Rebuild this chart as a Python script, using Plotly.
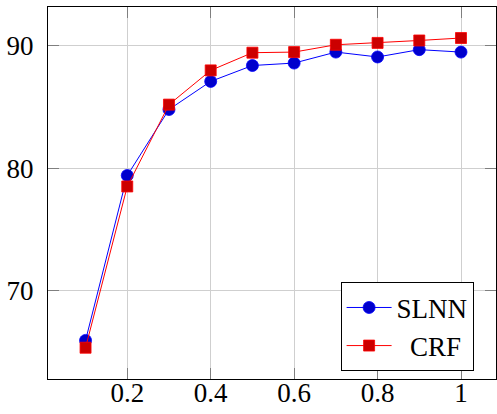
import plotly.graph_objects as go

x_vals = [0.1, 0.2, 0.3, 0.4, 0.5, 0.6, 0.7, 0.8, 0.9, 1.0]
slnn = [65.9, 79.4, 84.8, 87.1, 88.4, 88.6, 89.5, 89.1, 89.7, 89.5]
crf = [65.3, 78.5, 85.2, 88.0, 89.45, 89.5, 90.1, 90.25, 90.45, 90.65]
x_ticks = [0.2, 0.4, 0.6, 0.8, 1.0]
x_tick_text = ["0.2", "0.4", "0.6", "0.8", "1"]
y_ticks = [70, 80, 90]

FONT = "Liberation Serif"

fig = go.Figure()
fig.add_trace(go.Scatter(
    x=x_vals, y=slnn, name="SLNN", mode="lines+markers",
    line=dict(color="#0000ff", width=1),
    marker=dict(symbol="circle", size=12, color="#0000cc", line=dict(color="#0000ff", width=0.8)),
))
fig.add_trace(go.Scatter(
    x=x_vals, y=crf, name="\u00a0\u00a0CRF", mode="lines+markers",
    line=dict(color="#ff0000", width=1),
    marker=dict(symbol="square", size=11, color="#cc0000", line=dict(color="#ff0000", width=0.8)),
))

axis_common = dict(
    showline=True, linecolor="#000000", linewidth=1, mirror="ticks",
    ticks="inside", ticklen=11, tickcolor="#7f7f7f", tickwidth=1,
    showgrid=True, gridcolor="#cfcfcf", gridwidth=1, zeroline=False,
    tickfont=dict(family=FONT, size=27, color="#000000"),
    automargin=False,
)

fig.update_layout(
    width=497, height=414,
    margin=dict(l=48, r=1, t=7, b=35),
    paper_bgcolor="#ffffff", plot_bgcolor="#ffffff",
    font=dict(family=FONT, size=27, color="#000000"),
    xaxis=dict(range=[0.01, 1.0839], tickvals=x_ticks, ticktext=x_tick_text,
               ticklabelstandoff=-10, **axis_common),
    yaxis=dict(range=[62.74, 93.19], tickvals=y_ticks, ticklabelstandoff=8, **axis_common),
    legend=dict(
        x=0.95, y=0.14, xanchor="right", yanchor="middle",
        bordercolor="#000000", borderwidth=1, bgcolor="#ffffff",
        font=dict(family=FONT, size=27, color="#000000"),
        itemwidth=45, tracegroupgap=0,
    ),
    showlegend=True,
)

fig.write_html("out.html", post_script="document.body.style.margin='0px';",
               config={"displayModeBar": False})
